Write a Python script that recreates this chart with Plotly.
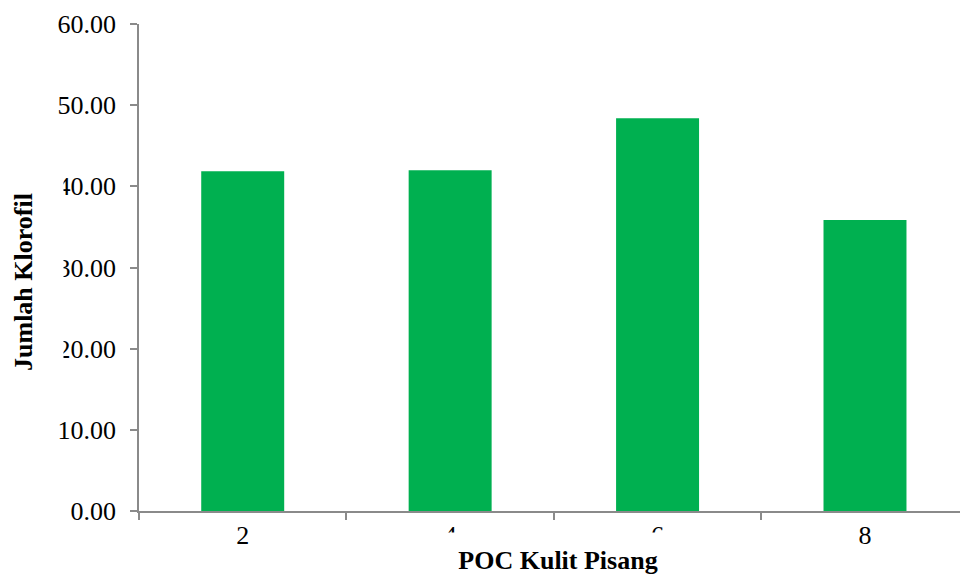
import plotly.graph_objects as go

# Chlorophyll content per banana-peel liquid organic fertilizer (POC) dose
categories = ["2", "4", "6", "8"]
klorofil = [41.85, 41.97, 48.38, 35.85]
y_ticks = [0, 10, 20, 30, 40, 50, 60]

FONT = "Liberation Serif"
AXIS_GRAY = "#8a8a8a"
BAR_GREEN = "#00B050"

W, H = 960, 574
M_L, M_R, M_T, M_B = 139, 0, 24, 63
plot_w = W - M_L - M_R
plot_h = H - M_T - M_B


def px_to_paper(px, py):
    return (px - M_L) / plot_w, (H - M_B - py) / plot_h


fig = go.Figure(
    go.Bar(
        x=categories,
        y=klorofil,
        marker=dict(color=BAR_GREEN, line=dict(width=0)),
        width=0.4,
    )
)

# axis titles carry a white box, as in the spreadsheet layout
xt_x, xt_y = px_to_paper(558, 560)
yt_x, yt_y = px_to_paper(23, 282)

axis_common = dict(
    showgrid=False,
    zeroline=False,
    showline=True,
    linecolor=AXIS_GRAY,
    linewidth=1.5,
    ticks="outside",
    ticklen=7,
    tickcolor=AXIS_GRAY,
    tickwidth=1.5,
    tickfont=dict(family=FONT, size=26, color="black"),
)

fig.update_layout(
    width=W,
    height=H,
    margin=dict(l=M_L, r=M_R, t=M_T, b=M_B, pad=0),
    paper_bgcolor="white",
    plot_bgcolor="white",
    showlegend=False,
    font=dict(family=FONT, size=26, color="black"),
    xaxis=dict(
        type="category",
        categoryorder="array",
        categoryarray=categories,
        range=[-0.5, 3.458],
        tickson="boundaries",
        **axis_common,
    ),
    yaxis=dict(
        range=[0, 60],
        tickvals=y_ticks,
        tickformat=".2f",
        ticklabelstandoff=9,
        **axis_common,
    ),
    annotations=[
        dict(
            text="<b>POC Kulit Pisang</b>",
            xref="paper",
            yref="paper",
            x=xt_x,
            y=xt_y,
            xanchor="center",
            yanchor="middle",
            showarrow=False,
            width=236,
            height=52,
            valign="middle",
            bgcolor="white",
            font=dict(family=FONT, size=26, color="black"),
        ),
        dict(
            text="<b>Jumlah Klorofil</b>",
            xref="paper",
            yref="paper",
            x=yt_x,
            y=yt_y,
            xanchor="center",
            yanchor="middle",
            showarrow=False,
            textangle=-90,
            width=240,
            height=78,
            valign="middle",
            bgcolor="white",
            font=dict(family=FONT, size=26, color="black"),
        ),
    ],
)

fig.write_html("out.html")
